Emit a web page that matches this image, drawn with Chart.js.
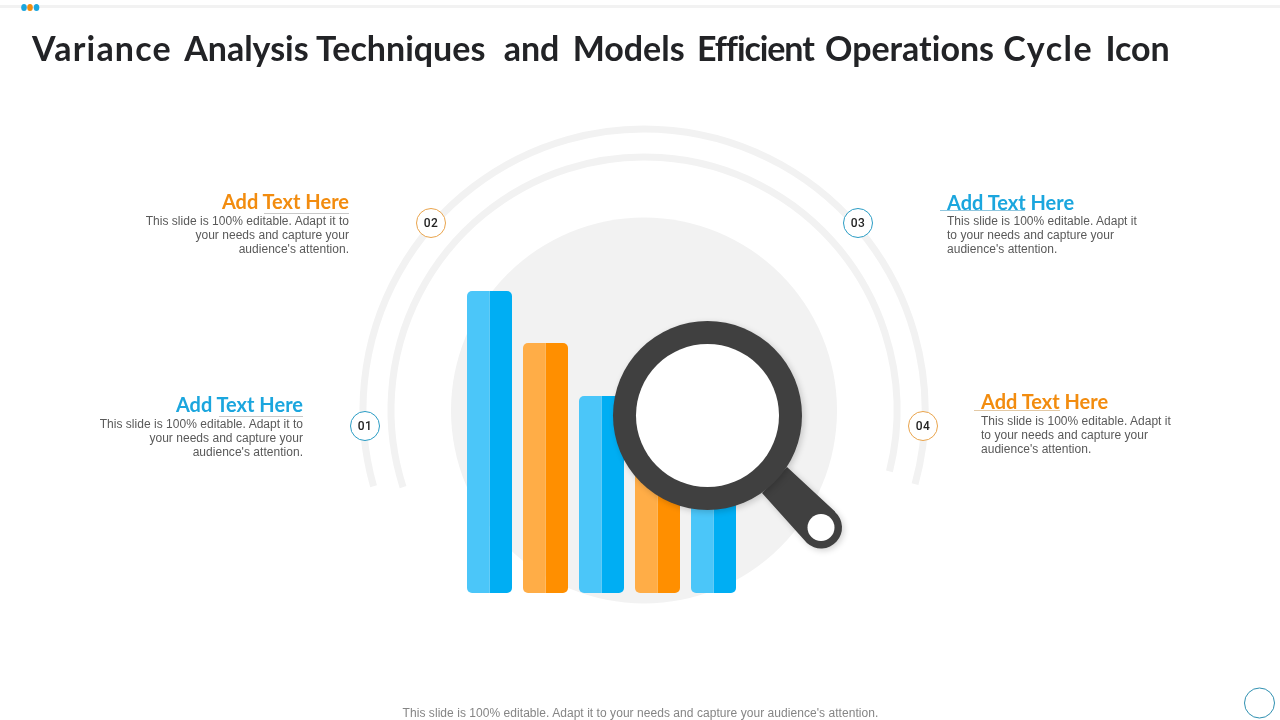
<!DOCTYPE html>
<html>
<head>
<meta charset="utf-8">
<title>Variance Analysis Techniques</title>
<script src="https://cdn.jsdelivr.net/npm/chart.js@4"></script>
<style>
  html, body { margin: 0; padding: 0; background: #fff; }
  #page { position: relative; width: 1280px; height: 720px; overflow: hidden; }
  canvas { position: absolute; left: 0; top: 0; }
  .t { position: absolute; white-space: nowrap; }
  #title { left: 32px; top: 28px; font: 700 34px/40px Lato, sans-serif; font-variant-ligatures: none; color: #222326; word-spacing: 6px; }
  .head { font: 700 20px/24px Lato, sans-serif; }
  .body { font: 12px/14px "Liberation Sans", Arial, sans-serif; color: #595959; letter-spacing: 0.03px; }
  .right { text-align: right; }
  .rule { position: absolute; height: 1px; }
  .badge { position: absolute; width: 30px; text-align: center; font: 500 12px/14px Roboto, sans-serif; letter-spacing: 0.4px; color: #222; }
  #foot { left: 0; width: 1281px; top: 706px; text-align: center; font: 12px/14px "Liberation Sans", Arial, sans-serif; letter-spacing: 0.05px; color: #858585; }
</style>
</head>
<body>
<div id="page">
  <canvas id="grafico" width="1280" height="720"></canvas>

  <div class="t" id="title"><span style="letter-spacing:1.2px">Variance</span> <span style="margin-left:-2px">Analysis</span> <span style="margin-left:-7px">Techniques</span> <span style="margin-left:4px">and</span> <span style="margin-left:-1px">Models</span> <span style="margin-left:-2px;letter-spacing:-1.1px">Efficient</span> <span style="margin-left:-3px">Operations</span> <span style="margin-left:-5px;letter-spacing:1.5px">Cycle</span> <span style="margin-left:-2px">Icon</span></div>

  <div class="t head right" style="right:931px;top:189px;color:#F28C0F">Add Text Here</div>
  <div class="rule" style="left:264px;width:85px;top:213px;background:#c9c9c9"></div>
  <div class="t body right" style="right:931px;top:214px">This slide is 100% editable. Adapt it to<br>your needs and capture your<br>audience's attention.</div>

  <div class="t head right" style="right:977px;top:392px;color:#1BA6DE">Add Text Here</div>
  <div class="rule" style="left:219px;width:84px;top:416px;background:#c9c9c9"></div>
  <div class="t body right" style="right:977px;top:417px">This slide is 100% editable. Adapt it to<br>your needs and capture your<br>audience's attention.</div>

  <div class="t head" style="left:947px;top:190px;color:#1BA6DE">Add Text Here</div>
  <div class="rule" style="left:940px;width:85px;top:210px;background:#8fc6de"></div>
  <div class="t body" style="left:947px;top:214px">This slide is 100% editable. Adapt it<br>to your needs and capture your<br>audience's attention.</div>

  <div class="t head" style="left:981px;top:389px;color:#F28C0F">Add Text Here</div>
  <div class="rule" style="left:974px;width:86px;top:410px;background:#e3c9a5"></div>
  <div class="t body" style="left:981px;top:414px">This slide is 100% editable. Adapt it<br>to your needs and capture your<br>audience's attention.</div>

  <div class="badge" style="left:350px;top:419px">01</div>
  <div class="badge" style="left:416px;top:216px">02</div>
  <div class="badge" style="left:843px;top:216px">03</div>
  <div class="badge" style="left:908px;top:419px">04</div>

  <div class="t" id="foot">This slide is 100% editable. Adapt it to your needs and capture your audience's attention.</div>
</div>

<script>
// datos (altura relativa de cada barra)
const categorias = ['1', '2', '3', '4', '5'];
const valores = [100, 82.8, 65.2, 47.7, 30.5];
const clarosBarra = ['#4BC6F9', '#FFAD47', '#4BC6F9', '#FFAD47', '#4BC6F9'];
const oscurosBarra = ['#00AEF3', '#FF8F00', '#00AEF3', '#FF8F00', '#00AEF3'];

const GRIS = '#F2F2F2';

// anillos y circulo de fondo, barra superior, insignias
const fondo = {
    id: 'fondo',
    beforeDatasetsDraw(chart) {
        const c = chart.ctx;
        c.save();

        c.fillStyle = GRIS;
        c.fillRect(0, 5, 1280, 3);

        [['#1BA6DE', 24], ['#F28C0F', 30], ['#1BA6DE', 36.5]].forEach(([color, x]) => {
            c.fillStyle = color;
            c.beginPath();
            c.ellipse(x, 7.5, 2.8, 3.5, 0, 0, Math.PI * 2);
            c.fill();
        });

        c.fillStyle = GRIS;
        c.beginPath();
        c.arc(644, 410.5, 193, 0, Math.PI * 2);
        c.fill();

        c.strokeStyle = GRIS;
        c.lineWidth = 7;
        c.beginPath();
        c.arc(644, 410, 281, Math.PI - 0.275, 0.267);
        c.stroke();
        c.beginPath();
        c.arc(644, 410, 253, Math.PI - 0.31, 0.245);
        c.stroke();

        [[365, 426, '#2A9CC4'], [431, 223, '#E9A44C'], [858, 223, '#2A9CC4'], [923, 426, '#E9A44C']].forEach(([x, y, color]) => {
            c.fillStyle = '#fff';
            c.strokeStyle = color;
            c.lineWidth = 1;
            c.beginPath();
            c.arc(x, y, 14.5, 0, Math.PI * 2);
            c.fill();
            c.stroke();
        });

        c.strokeStyle = '#2E8FB0';
        c.lineWidth = 1;
        c.fillStyle = '#fff';
        c.beginPath();
        c.arc(1259.5, 703, 15, 0, Math.PI * 2);
        c.fill();
        c.stroke();

        c.restore();
    }
};

// la lupa va encima de las barras
const lupa = {
    id: 'lupa',
    afterDatasetsDraw(chart) {
        const c = chart.ctx;
        c.save();
        c.shadowColor = 'rgba(0,0,0,0.18)';
        c.shadowBlur = 6;
        c.shadowOffsetX = 2;
        c.shadowOffsetY = 2;
        c.fillStyle = '#404040';

        c.beginPath();
        c.moveTo(787, 467);
        c.lineTo(835, 511.5);
        c.arc(821, 527.5, 21, -0.836, 2.305);
        c.lineTo(762, 493);
        c.closePath();
        c.fill();

        c.beginPath();
        c.arc(707.5, 415.5, 94.5, 0, Math.PI * 2);
        c.fill();

        c.shadowColor = 'transparent';
        c.fillStyle = '#fff';
        c.beginPath();
        c.arc(707.5, 415.5, 71.5, 0, Math.PI * 2);
        c.fill();
        c.beginPath();
        c.arc(821, 527.5, 13.5, 0, Math.PI * 2);
        c.fill();
        c.restore();
    }
};

new Chart(document.getElementById('grafico'), {
    type: 'bar',
    data: {
        labels: categorias,
        datasets: [
            {
                data: valores,
                backgroundColor: clarosBarra,
                borderSkipped: false,
                borderRadius: { topLeft: 5, bottomLeft: 5, topRight: 0, bottomRight: 0 }
            },
            {
                data: valores,
                backgroundColor: oscurosBarra,
                borderSkipped: false,
                borderRadius: { topLeft: 0, bottomLeft: 0, topRight: 5, bottomRight: 5 }
            }
        ]
    },
    options: {
        responsive: false,
        animation: false,
        devicePixelRatio: 1,
        layout: { padding: { left: 461.5, right: 538.5, top: 291, bottom: 127 } },
        categoryPercentage: 45 / 56,
        barPercentage: 1,
        plugins: { legend: { display: false }, tooltip: { enabled: false } },
        scales: {
            x: { display: false },
            y: { display: false, min: 0, max: 100 }
        }
    },
    plugins: [fondo, lupa]
});
</script>
</body>
</html>
